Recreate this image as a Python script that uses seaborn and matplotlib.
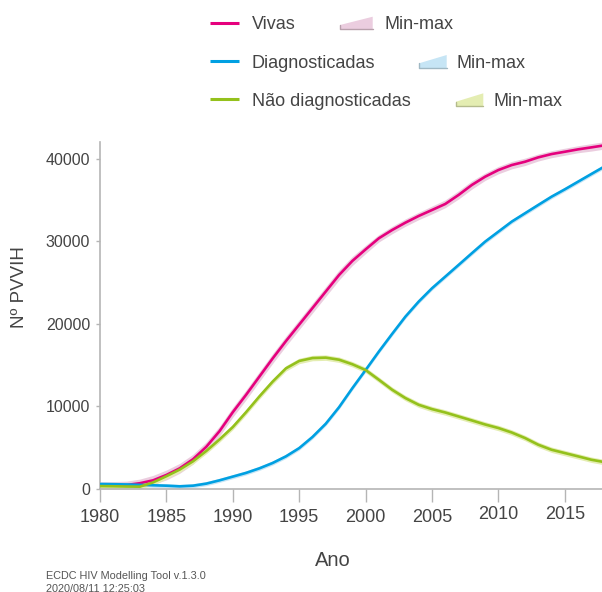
"""
Pessoas vivendo com VIH (PVVIH): vivas, diagnosticadas e não diagnosticadas.
Recreates the ECDC HIV Modelling Tool output chart and saves it as out.png.
"""

import matplotlib
matplotlib.use("Agg")
import matplotlib.pyplot as plt
import matplotlib.transforms as mtransforms
from matplotlib.lines import Line2D
from matplotlib.patches import Polygon
import pandas as pd
import seaborn as sns

# ---- data ----
anos = list(range(1980, 2019))

vivas = [450, 450, 480, 700, 1050, 1700, 2500, 3600, 5100, 7000,
         9300, 11400, 13600, 15800, 17900, 19900, 21900, 23900, 25900, 27600,
         29000, 30350, 31350, 32240, 33050, 33770, 34500, 35590, 36800, 37800,
         38610, 39210, 39610, 40140, 40540, 40820, 41110, 41350, 41600]
vivas_min = [0, 0, 30, 250, 550, 1100, 1900, 3000, 4500, 6400,
             8700, 10800, 13000, 15200, 17300, 19300, 21300, 23300, 25300, 27050,
             28500, 29900, 30900, 31800, 32600, 33300, 34050, 35100, 36300, 37350,
             38150, 38750, 39150, 39700, 40100, 40400, 40700, 40900, 41150]
vivas_max = [900, 900, 950, 1200, 1650, 2300, 3100, 4200, 5700, 7600,
             9900, 12000, 14200, 16400, 18500, 20500, 22500, 24500, 26500, 28150,
             29500, 30800, 31800, 32700, 33500, 34250, 35000, 36100, 37300, 38250,
             39050, 39650, 40050, 40550, 40950, 41250, 41550, 41800, 42050]

diagnosticadas = [600, 580, 550, 500, 450, 400, 320, 400, 650, 1050,
                  1500, 1950, 2500, 3150, 3950, 4950, 6300, 7900, 9900, 12200,
                  14400, 16640, 18780, 20870, 22690, 24300, 25710, 27120, 28540, 29940,
                  31150, 32360, 33370, 34380, 35380, 36270, 37200, 38130, 39050]
diag_min = [350, 330, 300, 250, 200, 150, 70, 150, 400, 800,
            1250, 1700, 2250, 2900, 3700, 4700, 6050, 7650, 9650, 11950,
            14150, 16400, 18530, 20620, 22440, 24050, 25460, 26870, 28290, 29690,
            30900, 32110, 33120, 34130, 35130, 36020, 36950, 37880, 38800]
diag_max = [850, 830, 800, 750, 700, 650, 570, 650, 900, 1300,
            1750, 2200, 2750, 3400, 4200, 5200, 6550, 8150, 10150, 12450,
            14650, 16890, 19030, 21120, 22940, 24550, 25960, 27370, 28790, 30190,
            31400, 32610, 33620, 34630, 35630, 36520, 37450, 38380, 39300]

nao_diag = [350, 330, 300, 280, 800, 1550, 2350, 3350, 4600, 6000,
            7500, 9300, 11200, 13000, 14600, 15500, 15850, 15900, 15650, 15100,
            14400, 13220, 12010, 11000, 10190, 9670, 9260, 8780, 8300, 7810,
            7380, 6840, 6170, 5360, 4750, 4350, 3950, 3540, 3250]
nao_diag_min = [20, 0, 0, 0, 470, 1220, 2020, 3020, 4270, 5670,
                7170, 8970, 10870, 12670, 14270, 15170, 15520, 15570, 15320, 14770,
                14070, 12890, 11680, 10670, 9860, 9340, 8930, 8450, 7970, 7480,
                7050, 6510, 5840, 5030, 4420, 4020, 3620, 3210, 2920]
nao_diag_max = [680, 660, 630, 610, 1130, 1880, 2680, 3680, 4930, 6330,
                7830, 9630, 11530, 13330, 14930, 15830, 16180, 16230, 15980, 15430,
                14730, 13550, 12340, 11330, 10520, 10000, 9590, 9110, 8630, 8140,
                7710, 7170, 6500, 5690, 5080, 4680, 4280, 3870, 3580]

series = ["Vivas", "Diagnosticadas", "Não diagnosticadas"]
y_ticks = [0, 10000, 20000, 30000, 40000]
x_ticks = [1980, 1985, 1990, 1995, 2000, 2005, 2010, 2015]

line_colors = {"Vivas": "#e5007d", "Diagnosticadas": "#00a0e2", "Não diagnosticadas": "#94c11c"}
band_colors = {"Vivas": "#ebcddf", "Diagnosticadas": "#c6e5f5", "Não diagnosticadas": "#e4edb2"}
band_edges = {"Vivas": "#b8a0ac", "Diagnosticadas": "#9fb8c4", "Não diagnosticadas": "#b4bb8c"}

W, H = 602, 592
TEXT = "#444444"
AXIS = "#b5b5b5"


def px(x, y):
    """Pixel position (from top-left) -> figure fraction."""
    return x / W, 1 - y / H


def main():
    sns.set_style("white")
    plt.rcParams["font.family"] = ["Liberation Sans", "DejaVu Sans"]

    df = pd.DataFrame({
        "ano": anos * 3,
        "valor": vivas + diagnosticadas + nao_diag,
        "serie": [s for s in series for _ in anos],
    })
    bands = {
        "Vivas": (vivas_min, vivas_max),
        "Diagnosticadas": (diag_min, diag_max),
        "Não diagnosticadas": (nao_diag_min, nao_diag_max),
    }

    fig = plt.figure(figsize=(W / 100, H / 100), dpi=100)
    ax = fig.add_axes([100 / W, (H - 489) / H, 502 / W, 347 / H])

    for s in series:
        lo, hi = bands[s]
        ax.fill_between(anos, lo, hi, color=band_colors[s], lw=0, zorder=1)

    sns.lineplot(data=df, x="ano", y="valor", hue="serie", hue_order=series,
                 palette=line_colors, linewidth=1.9, legend=False, ax=ax, zorder=3)

    ax.set_xlim(1980, 2017.8)
    ax.set_ylim(0, 42000)
    ax.set_xticks(x_ticks)
    ax.set_yticks(y_ticks)
    ax.set_xticklabels([str(t) for t in x_ticks], fontsize=13, color=TEXT)
    ax.set_yticklabels([str(t) for t in y_ticks], fontsize=11.5, color=TEXT)
    ax.tick_params(axis="x", length=9.5, width=1, color=AXIS, pad=5, direction="out")
    ax.tick_params(axis="y", length=3, width=1, color=AXIS, pad=4, direction="out")
    ax.tick_params(bottom=True, left=True)

    # the 2010 and 2015 labels sit a little higher in the original
    for lab in ax.get_xticklabels()[-2:]:
        lab.set_transform(lab.get_transform()
                          + mtransforms.ScaledTranslation(0, 0.035, fig.dpi_scale_trans))

    sns.despine(ax=ax)
    for side in ("left", "bottom"):
        ax.spines[side].set_color(AXIS)
        ax.spines[side].set_linewidth(1.2)

    ax.set_xlabel("Ano", fontsize=14.5, color=TEXT)
    ax.xaxis.set_label_coords(0.464, -0.222)
    ax.xaxis.label.set_verticalalignment("baseline")
    ax.set_ylabel("Nº PVVIH", fontsize=13.5, color=TEXT)
    ax.yaxis.set_label_coords(-0.161, 0.582)
    ax.yaxis.label.set_verticalalignment("center")

    # legend: line key, label, min-max wedge, "Min-max"
    rows = [
        # name, line y, baseline, wedge x0, x1, top-left y, top-right y, bottom y, text x
        ("Vivas", 22.7, 29.3, 340, 372.7, 25.0, 16.7, 29.3, 384.3),
        ("Diagnosticadas", 61.0, 67.7, 419, 446.7, 63.3, 55.0, 68.3, 456.7),
        ("Não diagnosticadas", 99.3, 106.0, 456, 483.3, 101.7, 93.3, 106.0, 493.3),
    ]
    for name, ly, base, x0, x1, tl, tr, bt, mx in rows:
        fig.add_artist(Line2D([px(210, 0)[0], px(239, 0)[0]], [px(0, ly)[1]] * 2,
                              color=line_colors[name], lw=2.2, solid_capstyle="butt"))
        fig.text(*px(251.7, base), name, fontsize=13, color=TEXT, va="baseline", ha="left")
        poly = Polygon([px(x0, bt), px(x1, bt), px(x1, tr), px(x0, tl)], closed=True,
                       facecolor=band_colors[name], edgecolor="none",
                       transform=fig.transFigure)
        fig.add_artist(poly)
        fig.add_artist(Line2D([px(x0, 0)[0], px(x0, 0)[0], px(x1, 0)[0]],
                              [px(0, tl)[1], px(0, bt)[1], px(0, bt)[1]],
                              color=band_edges[name], lw=1.0))
        fig.text(*px(mx, base), "Min-max", fontsize=13, color=TEXT, va="baseline", ha="left")

    # footer
    fig.text(*px(46, 579), "ECDC HIV Modelling Tool v.1.3.0", fontsize=7.8,
             color="#555555", va="baseline")
    fig.text(*px(46, 591.5), "2020/08/11 12:25:03", fontsize=7.8,
             color="#555555", va="baseline")

    fig.savefig("out.png", dpi=100)
    plt.close(fig)


if __name__ == "__main__":
    main()
